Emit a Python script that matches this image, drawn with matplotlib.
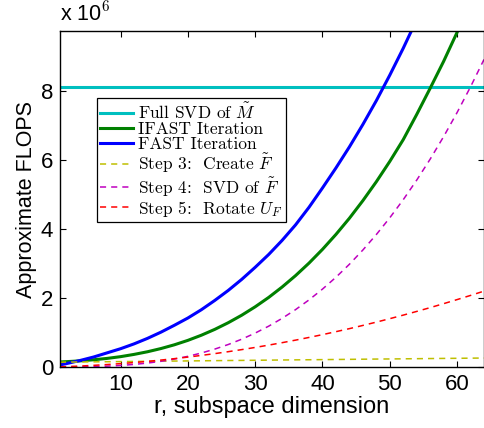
import matplotlib
matplotlib.use("Agg")
import matplotlib.pyplot as plt

# subspace dimension samples
r = [1, 2, 4, 6, 8, 10, 12, 14, 16, 18, 20, 22, 24, 26, 28, 30, 32,
     34, 36, 38, 40, 42, 44, 46, 48, 50, 52, 54, 56, 58, 60, 62, 64]

# values in units of 1e6 FLOPS
full_svd = [8.12] * len(r)
ifast = [0.146, 0.155, 0.178, 0.210, 0.249, 0.300, 0.365, 0.442, 0.535, 0.644,
         0.772, 0.921, 1.091, 1.284, 1.501, 1.745, 2.016, 2.318, 2.649, 3.012,
         3.410, 3.843, 4.312, 4.822, 5.370, 5.959, 6.591, 7.32, 8.08, 8.86,
         9.70, 10.6, 11.5]
fast = [0.06, 0.10, 0.19, 0.29, 0.41, 0.53, 0.67, 0.83, 1.01, 1.21,
        1.42, 1.66, 1.93, 2.22, 2.54, 2.89, 3.26, 3.67, 4.12, 4.63,
        5.19, 5.77, 6.38, 7.03, 7.72, 8.46, 9.24, 10.07, 10.95, 11.89,
        12.87, 13.92, 15.0]
step3 = [0.140, 0.142, 0.146, 0.150, 0.153, 0.157, 0.161, 0.165, 0.169, 0.172,
         0.176, 0.180, 0.184, 0.188, 0.191, 0.195, 0.199, 0.203, 0.207, 0.210,
         0.214, 0.218, 0.222, 0.226, 0.230, 0.233, 0.237, 0.241, 0.245, 0.249,
         0.252, 0.256, 0.260]
step4 = [0.0002, 0.0008, 0.004, 0.012, 0.025, 0.045, 0.075, 0.114, 0.165, 0.230,
         0.309, 0.405, 0.519, 0.652, 0.806, 0.983, 1.183, 1.410, 1.663, 1.945,
         2.258, 2.601, 2.978, 3.391, 3.839, 4.325, 4.850, 5.417, 6.025, 6.678,
         7.376, 8.122, 8.915]
step5 = [0.006, 0.012, 0.028, 0.048, 0.071, 0.098, 0.129, 0.163, 0.201, 0.242,
         0.287, 0.336, 0.388, 0.444, 0.504, 0.567, 0.634, 0.705, 0.779, 0.857,
         0.938, 1.024, 1.112, 1.205, 1.301, 1.401, 1.504, 1.611, 1.721, 1.836,
         1.954, 2.075, 2.200]

xticks = [10, 20, 30, 40, 50, 60]
yticks = [0, 2, 4, 6, 8]

labels = [r'Full SVD of $\tilde{M}$',
          r'IFAST Iteration',
          r'FAST Iteration',
          r'Step 3:  Create $\tilde{F}$',
          r'Step 4:  SVD of $\tilde{F}$',
          r'Step 5:  Rotate $U_F$']

plt.rcParams['font.family'] = ['Liberation Sans', 'DejaVu Sans']
plt.rcParams['mathtext.fontset'] = 'cm'

fig = plt.figure(figsize=(4.85, 4.28), dpi=100)
ax = fig.add_axes([60 / 485, (428 - 367) / 428, 424 / 485, 336 / 428])

dash = (0, (4, 3.3))
ax.plot(r, full_svd, color='#00BFBF', lw=2.2, label=labels[0])
ax.plot(r, ifast, color='#008000', lw=2.2, label=labels[1])
ax.plot(r, fast, color='#0000FF', lw=2.2, label=labels[2])
ax.plot(r, step3, color='#BFBF00', lw=1.1, ls=dash, label=labels[3])
ax.plot(r, step4, color='#BF00BF', lw=1.1, ls=dash, label=labels[4])
ax.plot(r, step5, color='#FF0000', lw=1.1, ls=dash, label=labels[5])

ax.set_xlim(1, 64)
ax.set_ylim(0, 9.74)
ax.set_xticks(xticks)
ax.set_yticks(yticks)
ax.tick_params(direction='in', length=4, width=0.8, top=True, right=True,
               labelsize=16, pad=5)
for s in ax.spines.values():
    s.set_linewidth(1.0)

ax.set_xlabel('r, subspace dimension', fontsize=17, labelpad=1)
ax.set_ylabel('Approximate FLOPS', fontsize=15.5, labelpad=3)
ax.text(0.0, 1.015, r'x 10$^{6}$', transform=ax.transAxes, fontsize=15.5,
        ha='left', va='bottom')

leg = ax.legend(loc='upper left', bbox_to_anchor=(0.087, 0.80),
                borderaxespad=0, fancybox=False, framealpha=1,
                edgecolor='black', prop={'family': 'cmr10', 'size': 12.5},
                handlelength=1.9, handletextpad=0.25, labelspacing=0.0,
                borderpad=0.2)
leg.get_frame().set_linewidth(0.9)

fig.savefig('out.png', dpi=100)
